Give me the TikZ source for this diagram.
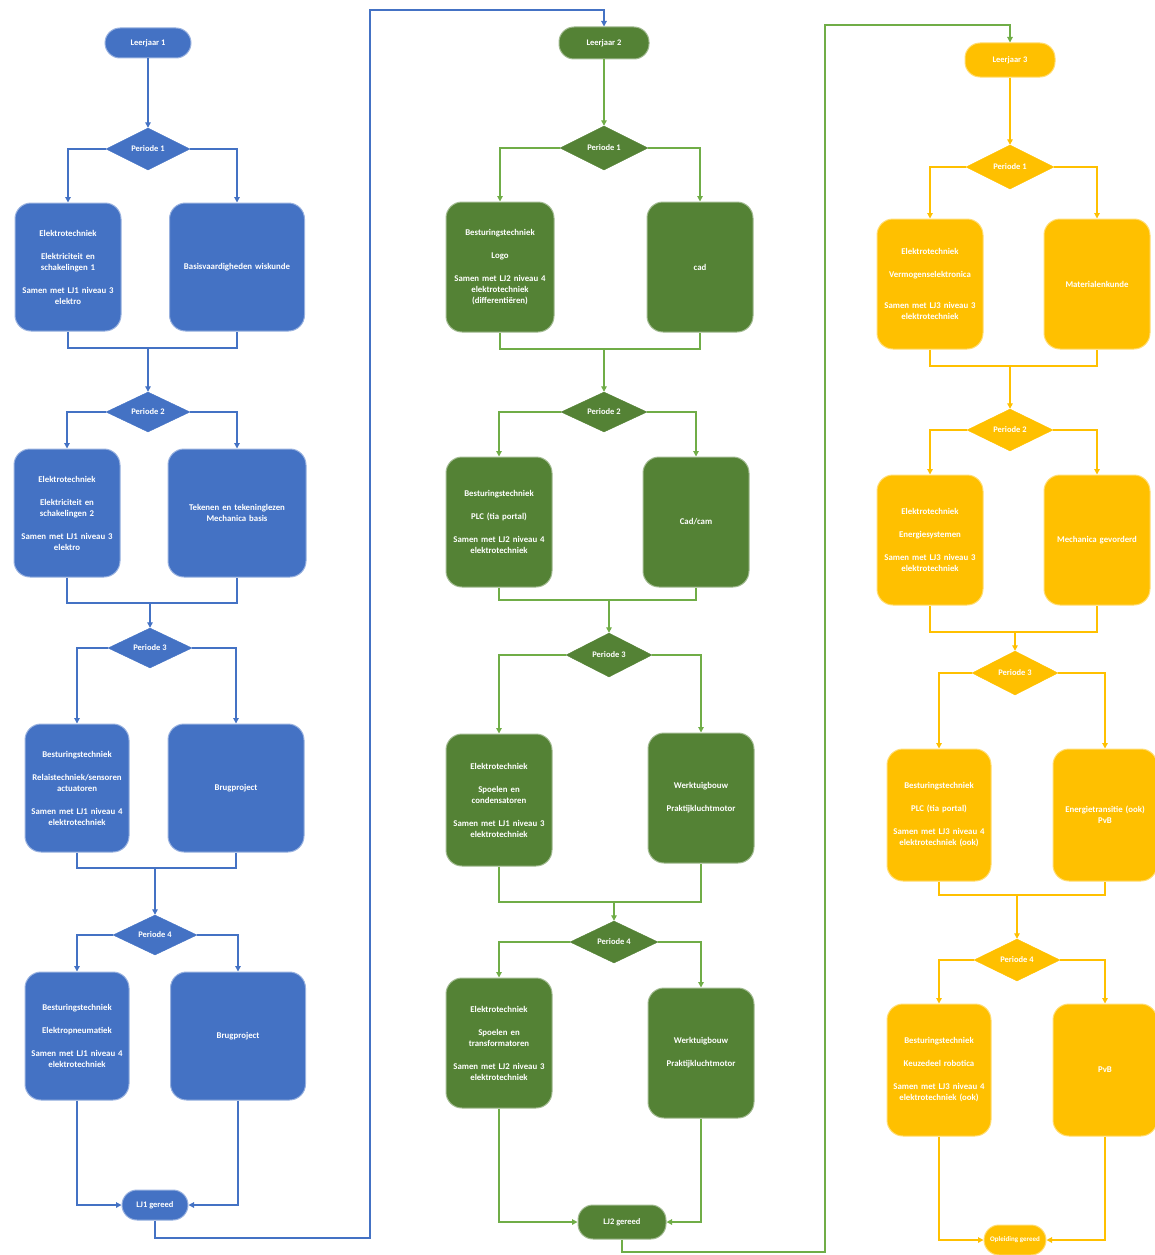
\documentclass[tikz,border=0pt]{standalone}
\usepackage{fontspec}
\setmainfont{Carlito}
\usetikzlibrary{shapes.geometric,arrows.meta}

\definecolor{ljblue}{HTML}{4472C4}
\definecolor{ljgreen}{HTML}{548235}
\definecolor{ljgreenline}{HTML}{70AD47}
\definecolor{ljyellow}{HTML}{FFC000}

\tikzset{
	vak/.style={rounded corners=16pt, fill=#1, draw=#1!55!white, line width=1pt,
		text=white, align=center, inner sep=2pt,
		font=\fontsize{8.8}{11}\selectfont\bfseries},
	periode/.style={diamond, fill=#1, draw=#1, text=white, inner sep=0pt,
		font=\fontsize{8.5}{10}\selectfont\bfseries},
	eind/.style={rounded corners=15pt, fill=#1, draw=#1!55!white, line width=1pt,
		text=white, inner sep=2pt, font=\fontsize{8.5}{10}\selectfont\bfseries},
	lijn/.style={draw=#1, line width=1.2pt},
	>={Triangle[length=5.5pt,width=5.5pt]}
}

\begin{document}
\begin{tikzpicture}[x=1pt,y=-1pt]
	\useasboundingbox (0,0) rectangle (1155,1255);
	
	% Draw nodes, leerjaar 1
	\node[eind=ljblue, minimum width=86pt, minimum height=30pt] (lj1) at (148,43) {Leerjaar 1};
	\node[periode=ljblue, minimum width=84pt, minimum height=42pt] (p11) at (148,149) {Periode 1};
	\node[vak=ljblue, minimum width=106pt, minimum height=128pt, text width=100pt] (b111) at (68,267)
		{Elektrotechniek\\[12pt]Elektriciteit en\\schakelingen 1\\[12pt]Samen met LJ1 niveau 3\\elektro};
	\node[vak=ljblue, minimum width=135pt, minimum height=128pt, text width=128pt] (b112) at (237,267)
		{Basisvaardigheden wiskunde};
	\node[periode=ljblue, minimum width=84pt, minimum height=40pt] (p12) at (148,412) {Periode 2};
	\node[vak=ljblue, minimum width=106pt, minimum height=128pt, text width=100pt] (b121) at (67,513)
		{Elektrotechniek\\[12pt]Elektriciteit en\\schakelingen 2\\[12pt]Samen met LJ1 niveau 3\\elektro};
	\node[vak=ljblue, minimum width=138pt, minimum height=128pt, text width=130pt] (b122) at (237,513)
		{Tekenen en tekeninglezen\\Mechanica basis};
	\node[periode=ljblue, minimum width=84pt, minimum height=40pt] (p13) at (150,648) {Periode 3};
	\node[vak=ljblue, minimum width=104pt, minimum height=128pt, text width=100pt] (b131) at (77,788)
		{Besturingstechniek\\[12pt]Relaistechniek/sensoren\\actuatoren\\[12pt]Samen met LJ1 niveau 4\\elektrotechniek};
	\node[vak=ljblue, minimum width=136pt, minimum height=128pt, text width=128pt] (b132) at (236,788)
		{Brugproject};
	\node[periode=ljblue, minimum width=84pt, minimum height=40pt] (p14) at (155,935) {Periode 4};
	\node[vak=ljblue, minimum width=104pt, minimum height=128pt, text width=100pt] (b141) at (77,1036)
		{Besturingstechniek\\[12pt]Elektropneumatiek\\[12pt]Samen met LJ1 niveau 4\\elektrotechniek};
	\node[vak=ljblue, minimum width=135pt, minimum height=128pt, text width=128pt] (b142) at (238,1036)
		{Brugproject};
	\node[eind=ljblue, minimum width=66pt, minimum height=30pt] (lj1klaar) at (155,1205) {LJ1 gereed};
	
	% Draw nodes, leerjaar 2
	\node[eind=ljgreen, minimum width=90pt, minimum height=32pt] (lj2) at (604,43) {Leerjaar 2};
	\node[periode=ljgreen, minimum width=88pt, minimum height=44pt] (p21) at (604,148) {Periode 1};
	\node[vak=ljgreen, minimum width=108pt, minimum height=130pt, text width=100pt] (b211) at (500,267)
		{Besturingstechniek\\[12pt]Logo\\[12pt]Samen met LJ2 niveau 4\\elektrotechniek\\(differentiëren)};
	\node[vak=ljgreen, minimum width=106pt, minimum height=130pt, text width=100pt] (b212) at (700,267)
		{cad};
	\node[periode=ljgreen, minimum width=86pt, minimum height=40pt] (p22) at (604,412) {Periode 2};
	\node[vak=ljgreen, minimum width=106pt, minimum height=130pt, text width=100pt] (b221) at (499,522)
		{Besturingstechniek\\[12pt]PLC (tia portal)\\[12pt]Samen met LJ2 niveau 4\\elektrotechniek};
	\node[vak=ljgreen, minimum width=106pt, minimum height=130pt, text width=100pt] (b222) at (696,522)
		{Cad/cam};
	\node[periode=ljgreen, minimum width=86pt, minimum height=44pt] (p23) at (609,655) {Periode 3};
	\node[vak=ljgreen, minimum width=106pt, minimum height=132pt, text width=100pt] (b231) at (499,800)
		{Elektrotechniek\\[12pt]Spoelen en\\condensatoren\\[12pt]Samen met LJ1 niveau 3\\elektrotechniek};
	\node[vak=ljgreen, minimum width=106pt, minimum height=130pt, text width=100pt] (b232) at (701,798)
		{Werktuigbouw\\[12pt]Praktijkluchtmotor};
	\node[periode=ljgreen, minimum width=88pt, minimum height=42pt] (p24) at (614,942) {Periode 4};
	\node[vak=ljgreen, minimum width=106pt, minimum height=130pt, text width=100pt] (b241) at (499,1043)
		{Elektrotechniek\\[12pt]Spoelen en\\transformatoren\\[12pt]Samen met LJ2 niveau 3\\elektrotechniek};
	\node[vak=ljgreen, minimum width=106pt, minimum height=130pt, text width=100pt] (b242) at (701,1053)
		{Werktuigbouw\\[12pt]Praktijkluchtmotor};
	\node[eind=ljgreen, minimum width=88pt, minimum height=34pt] (lj2klaar) at (622,1222) {LJ2 gereed};
	
	% Draw nodes, leerjaar 3
	\node[eind=ljyellow, minimum width=90pt, minimum height=34pt] (lj3) at (1010,60) {Leerjaar 3};
	\node[periode=ljyellow, minimum width=88pt, minimum height=44pt] (p31) at (1010,167) {Periode 1};
	\node[vak=ljyellow, minimum width=106pt, minimum height=130pt, text width=100pt] (b311) at (930,284)
		{Elektrotechniek\\[12pt]Vermogenselektronica\\[20pt]Samen met LJ3 niveau 3\\elektrotechniek};
	\node[vak=ljyellow, minimum width=106pt, minimum height=130pt, text width=100pt] (b312) at (1097,284)
		{Materialenkunde};
	\node[periode=ljyellow, minimum width=86pt, minimum height=42pt] (p32) at (1010,430) {Periode 2};
	\node[vak=ljyellow, minimum width=106pt, minimum height=130pt, text width=100pt] (b321) at (930,540)
		{Elektrotechniek\\[12pt]Energiesystemen\\[12pt]Samen met LJ3 niveau 3\\elektrotechniek};
	\node[vak=ljyellow, minimum width=106pt, minimum height=130pt, text width=100pt] (b322) at (1097,540)
		{Mechanica gevorderd};
	\node[periode=ljyellow, minimum width=86pt, minimum height=44pt] (p33) at (1015,673) {Periode 3};
	\node[vak=ljyellow, minimum width=104pt, minimum height=132pt, text width=100pt] (b331) at (939,815)
		{Besturingstechniek\\[12pt]PLC (tia portal)\\[12pt]Samen met LJ3 niveau 4\\elektrotechniek (ook)};
	\node[vak=ljyellow, minimum width=104pt, minimum height=132pt, text width=100pt] (b332) at (1105,815)
		{Energietransitie (ook)\\PvB};
	\node[periode=ljyellow, minimum width=86pt, minimum height=42pt] (p34) at (1017,960) {Periode 4};
	\node[vak=ljyellow, minimum width=104pt, minimum height=132pt, text width=100pt] (b341) at (939,1070)
		{Besturingstechniek\\[12pt]Keuzedeel robotica\\[12pt]Samen met LJ3 niveau 4\\elektrotechniek (ook)};
	\node[vak=ljyellow, minimum width=104pt, minimum height=132pt, text width=100pt] (b342) at (1105,1070)
		{PvB};
	\node[eind=ljyellow, minimum width=62pt, minimum height=30pt, font=\fontsize{7}{8}\selectfont\bfseries]
		(lj3klaar) at (1015,1240) {Opleiding gereed};
	
	% Coordinates where the two branches meet
	\coordinate (m11) at (148,348);
	\coordinate (m12) at (150,603);
	\coordinate (m13) at (155,868);
	\coordinate (m21) at (604,349);
	\coordinate (m22) at (609,600);
	\coordinate (m23) at (614,902);
	\coordinate (m31) at (1010,366);
	\coordinate (m32) at (1015,632);
	\coordinate (m33) at (1017,895);
	
	% Coordinates of the links between the years
	\coordinate (k1) at (370,1238);
	\coordinate (k2) at (370,10);
	\coordinate (k3) at (825,1252);
	\coordinate (k4) at (825,25);
	
	% Draw arcs, leerjaar 1
	\draw[lijn=ljblue,->] (lj1) to (p11);
	\draw[lijn=ljblue,->] (p11.west) -| (b111.north);
	\draw[lijn=ljblue,->] (p11.east) -| (b112.north);
	\draw[lijn=ljblue] (b111.south) |- (m11) -| (b112.south);
	\draw[lijn=ljblue,->] (m11) to (p12);
	\draw[lijn=ljblue,->] (p12.west) -| (b121.north);
	\draw[lijn=ljblue,->] (p12.east) -| (b122.north);
	\draw[lijn=ljblue] (b121.south) |- (m12) -| (b122.south);
	\draw[lijn=ljblue,->] (m12) to (p13);
	\draw[lijn=ljblue,->] (p13.west) -| (b131.north);
	\draw[lijn=ljblue,->] (p13.east) -| (b132.north);
	\draw[lijn=ljblue] (b131.south) |- (m13) -| (b132.south);
	\draw[lijn=ljblue,->] (m13) to (p14);
	\draw[lijn=ljblue,->] (p14.west) -| (b141.north);
	\draw[lijn=ljblue,->] (p14.east) -| (b142.north);
	\draw[lijn=ljblue,->] (b141.south) |- (lj1klaar.west);
	\draw[lijn=ljblue,->] (b142.south) |- (lj1klaar.east);
	\draw[lijn=ljblue,->] (lj1klaar.south) |- (k1) -- (k2) -| (lj2.north);
	
	% Draw arcs, leerjaar 2
	\draw[lijn=ljgreenline,->] (lj2) to (p21);
	\draw[lijn=ljgreenline,->] (p21.west) -| (b211.north);
	\draw[lijn=ljgreenline,->] (p21.east) -| (b212.north);
	\draw[lijn=ljgreenline] (b211.south) |- (m21) -| (b212.south);
	\draw[lijn=ljgreenline,->] (m21) to (p22);
	\draw[lijn=ljgreenline,->] (p22.west) -| (b221.north);
	\draw[lijn=ljgreenline,->] (p22.east) -| (b222.north);
	\draw[lijn=ljgreenline] (b221.south) |- (m22) -| (b222.south);
	\draw[lijn=ljgreenline,->] (m22) to (p23);
	\draw[lijn=ljgreenline,->] (p23.west) -| (b231.north);
	\draw[lijn=ljgreenline,->] (p23.east) -| (b232.north);
	\draw[lijn=ljgreenline] (b231.south) |- (m23) -| (b232.south);
	\draw[lijn=ljgreenline,->] (m23) to (p24);
	\draw[lijn=ljgreenline,->] (p24.west) -| (b241.north);
	\draw[lijn=ljgreenline,->] (p24.east) -| (b242.north);
	\draw[lijn=ljgreenline,->] (b241.south) |- (lj2klaar.west);
	\draw[lijn=ljgreenline,->] (b242.south) |- (lj2klaar.east);
	\draw[lijn=ljgreenline,->] (lj2klaar.south) |- (k3) -- (k4) -| (lj3.north);
	
	% Draw arcs, leerjaar 3
	\draw[lijn=ljyellow,->] (lj3) to (p31);
	\draw[lijn=ljyellow,->] (p31.west) -| (b311.north);
	\draw[lijn=ljyellow,->] (p31.east) -| (b312.north);
	\draw[lijn=ljyellow] (b311.south) |- (m31) -| (b312.south);
	\draw[lijn=ljyellow,->] (m31) to (p32);
	\draw[lijn=ljyellow,->] (p32.west) -| (b321.north);
	\draw[lijn=ljyellow,->] (p32.east) -| (b322.north);
	\draw[lijn=ljyellow] (b321.south) |- (m32) -| (b322.south);
	\draw[lijn=ljyellow,->] (m32) to (p33);
	\draw[lijn=ljyellow,->] (p33.west) -| (b331.north);
	\draw[lijn=ljyellow,->] (p33.east) -| (b332.north);
	\draw[lijn=ljyellow] (b331.south) |- (m33) -| (b332.south);
	\draw[lijn=ljyellow,->] (m33) to (p34);
	\draw[lijn=ljyellow,->] (p34.west) -| (b341.north);
	\draw[lijn=ljyellow,->] (p34.east) -| (b342.north);
	\draw[lijn=ljyellow,->] (b341.south) |- (lj3klaar.west);
	\draw[lijn=ljyellow,->] (b342.south) |- (lj3klaar.east);
	
\end{tikzpicture}
\end{document}
